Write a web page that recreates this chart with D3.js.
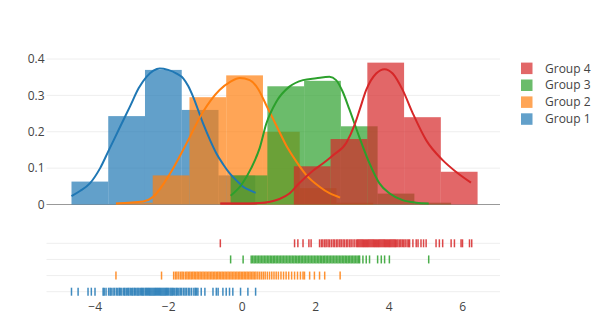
<!DOCTYPE html>
<html><head><meta charset="utf-8">
<script src="https://cdn.jsdelivr.net/npm/d3@7"></script>
<style>body{margin:0;background:#fff}svg{display:block}text{font-family:"Open Sans",verdana,arial,sans-serif}</style>
</head><body><svg id="c" width="612" height="336"></svg>
<script>
const groups = ["Group 1","Group 2","Group 3","Group 4"];
const colors = ["#1f77b4","#ff7f0e","#2ca02c","#d62728"];
const binSize = 1;
const binStart = [-4.63,-3.42,-0.30,-0.58];
const hist1 = [0.063,0.243,0.37,0.26,0.08];
const hist2 = [0.005,0.08,0.295,0.355,0.2,0.045,0.005];
const hist3 = [0.08,0.325,0.34,0.215,0.03,0.005];
const hist4 = [0.005,0,0.105,0.18,0.39,0.24,0.09];

const kde1 = [[-4.63,0.023],[-4.4,0.037],[-4.13,0.058],[-3.85,0.1],[-3.61,0.15],[-3.3,0.215],[-3.04,0.269],[-2.8,0.32],[-2.59,0.351],[-2.4,0.368],[-2.23,0.374],[-2.0,0.37],[-1.77,0.36],[-1.59,0.347],[-1.45,0.325],[-1.32,0.296],[-1.05,0.223],[-0.85,0.175],[-0.69,0.141],[-0.5,0.11],[-0.33,0.086],[-0.1,0.062],[0.04,0.049],[0.2,0.04],[0.38,0.032]];
const kde2 = [[-3.42,0.003],[-2.68,0.008],[-2.41,0.021],[-1.96,0.083],[-1.5,0.168],[-1.05,0.255],[-0.6,0.315],[-0.3,0.338],[-0.05,0.348],[0.22,0.342],[0.44,0.319],[0.67,0.273],[0.94,0.218],[1.21,0.163],[1.49,0.118],[1.76,0.081],[2.12,0.049],[2.39,0.031],[2.68,0.019]];
const kde3 = [[-0.3,0.024],[0.0,0.055],[0.26,0.1],[0.49,0.155],[0.67,0.222],[0.94,0.282],[1.3,0.324],[1.67,0.342],[2.03,0.347],[2.39,0.351],[2.57,0.342],[2.75,0.31],[2.93,0.262],[3.2,0.186],[3.48,0.113],[3.75,0.058],[4.02,0.031],[4.38,0.012],[4.75,0.005],[5.09,0.003]];
const kde4 = [[-0.58,0.003],[0.0,0.003],[0.49,0.004],[1.03,0.015],[1.3,0.03],[1.58,0.06],[1.94,0.093],[2.2,0.112],[2.48,0.135],[2.85,0.17],[3.07,0.218],[3.21,0.26],[3.39,0.315],[3.66,0.36],[3.89,0.372],[4.11,0.36],[4.38,0.315],[4.66,0.25],[5.02,0.177],[5.47,0.122],[5.83,0.09],[6.24,0.06]];

const rug1 = [-4.63,-4.45,-4.18,-4.09,-3.99,-3.77,-3.74,-3.69,-3.62,-3.58,-3.55,-3.5,-3.46,-3.41,-3.37,-3.33,-3.3,-3.26,-3.21,-3.18,-3.14,-3.1,-3.07,-3.03,-2.99,-2.96,-2.92,-2.89,-2.85,-2.82,-2.79,-2.75,-2.72,-2.69,-2.66,-2.62,-2.59,-2.56,-2.53,-2.5,-2.47,-2.44,-2.41,-2.38,-2.35,-2.32,-2.29,-2.26,-2.23,-2.2,-2.17,-2.14,-2.11,-2.08,-2.05,-2.02,-1.99,-1.95,-1.92,-1.89,-1.86,-1.82,-1.78,-1.75,-1.71,-1.67,-1.63,-1.58,-1.54,-1.5,-1.45,-1.41,-1.36,-1.3,-1.26,-1.23,-1.19,-1.1,-1.0,-0.78,-0.69,-0.64,-0.51,-0.42,-0.33,-0.24,-0.03,0.17,0.38];
const rug2 = [-3.42,-2.18,-1.85,-1.8,-1.76,-1.71,-1.66,-1.62,-1.58,-1.53,-1.49,-1.45,-1.41,-1.37,-1.33,-1.29,-1.25,-1.21,-1.17,-1.13,-1.09,-1.05,-1.01,-0.97,-0.93,-0.89,-0.85,-0.81,-0.77,-0.73,-0.69,-0.65,-0.61,-0.57,-0.53,-0.49,-0.45,-0.41,-0.37,-0.33,-0.29,-0.25,-0.21,-0.17,-0.13,-0.09,-0.05,-0.01,0.03,0.07,0.11,0.15,0.19,0.23,0.27,0.31,0.35,0.39,0.44,0.49,0.54,0.59,0.64,0.7,0.76,0.82,0.88,0.94,1.0,1.07,1.14,1.21,1.28,1.36,1.44,1.52,1.6,1.67,1.71,1.85,1.98,2.12,2.26,2.68];
const rug3 = [-0.3,0.04,0.26,0.3,0.34,0.38,0.42,0.46,0.5,0.54,0.58,0.62,0.66,0.7,0.74,0.78,0.82,0.86,0.9,0.94,0.98,1.02,1.06,1.1,1.14,1.18,1.22,1.26,1.3,1.34,1.38,1.42,1.46,1.5,1.54,1.58,1.62,1.66,1.7,1.74,1.78,1.82,1.86,1.9,1.94,1.98,2.02,2.06,2.1,2.14,2.18,2.22,2.26,2.3,2.34,2.38,2.42,2.46,2.5,2.54,2.58,2.62,2.66,2.7,2.74,2.78,2.82,2.86,2.9,2.94,2.98,3.02,3.06,3.1,3.14,3.18,3.21,3.3,3.39,3.48,3.7,3.8,3.89,4.02,5.09];
const rug4 = [-0.58,1.44,1.53,1.67,1.83,1.89,2.12,2.17,2.21,2.26,2.3,2.35,2.39,2.44,2.49,2.53,2.58,2.62,2.67,2.71,2.76,2.8,2.85,2.89,2.94,2.98,3.03,3.08,3.13,3.16,3.19,3.22,3.25,3.28,3.31,3.34,3.37,3.4,3.43,3.46,3.49,3.52,3.55,3.58,3.61,3.64,3.67,3.7,3.73,3.76,3.79,3.82,3.85,3.88,3.91,3.94,3.97,4.0,4.03,4.06,4.09,4.12,4.15,4.18,4.21,4.25,4.29,4.33,4.37,4.41,4.45,4.5,4.54,4.57,4.66,4.75,4.8,4.88,4.95,5.02,5.29,5.38,5.47,5.7,5.79,5.97,6.01,6.2,6.26];

const xTicks = [-4,-2,0,2,4,6];
const yTicks = [0,0.1,0.2,0.3,0.4];

const hists = [hist1,hist2,hist3,hist4];
const kdes = [kde1,kde2,kde3,kde4];
const rugs = [rug1,rug2,rug3,rug4];

const svg = d3.select("#c");
const X0 = 46.5, X1 = 500;
const x = d3.scaleLinear().domain([-5.31,7.03]).range([X0,X1]);
const y = d3.scaleLinear().domain([0,0.4]).range([204.5,59]);
const yr = d3.scalePoint().domain(groups).range([291.7,243.3]);

// grid
svg.append("g").selectAll("line").data(yTicks.filter(d=>d>0)).join("line")
  .attr("x1",X0).attr("x2",X1).attr("y1",d=>y(d)).attr("y2",d=>y(d))
  .attr("stroke","#eee").attr("stroke-width",1);
svg.append("line").attr("x1",X0).attr("x2",X1).attr("y1",y(0)).attr("y2",y(0))
  .attr("stroke","#999").attr("stroke-width",1.2);
svg.append("g").selectAll("line").data(groups).join("line")
  .attr("x1",X0).attr("x2",X1).attr("y1",d=>yr(d)).attr("y2",d=>yr(d))
  .attr("stroke","#eee").attr("stroke-width",1);

// histograms
hists.forEach((h,gi)=>{
  svg.append("g").selectAll("rect").data(h.map((v,i)=>({x0:binStart[gi]+i*binSize,x1:binStart[gi]+(i+1)*binSize,v})).filter(d=>d.v>0))
    .join("rect")
    .attr("x",d=>x(d.x0)).attr("width",d=>x(d.x1)-x(d.x0))
    .attr("y",d=>y(d.v)).attr("height",d=>y(0)-y(d.v))
    .attr("fill",colors[gi]).attr("fill-opacity",0.7);
});

// curves
const line = d3.line().x(d=>x(d[0])).y(d=>y(d[1])).curve(d3.curveMonotoneX);
kdes.forEach((k,gi)=>{
  svg.append("path").attr("d",line(k)).attr("fill","none")
    .attr("stroke",colors[gi]).attr("stroke-width",2);
});

// rugs
rugs.forEach((r,gi)=>{
  const yc = yr(groups[gi]);
  svg.append("g").selectAll("line").data(r).join("line")
    .attr("x1",d=>x(d)).attr("x2",d=>x(d)).attr("y1",yc-4).attr("y2",yc+4)
    .attr("stroke",colors[gi]).attr("stroke-width",1.5).attr("stroke-opacity",0.85);
});

// axes
const xa = svg.append("g").attr("transform","translate(0,298)")
  .call(d3.axisBottom(x).tickValues(xTicks).tickSize(0).tickPadding(4));
xa.select(".domain").remove();
xa.selectAll("text").attr("fill","#444").style("font-size","12px");

const ya = svg.append("g").attr("transform",`translate(${X0},0)`)
  .call(d3.axisLeft(y).tickValues(yTicks).tickSize(0).tickPadding(2).tickFormat(d=>d===0?"0":d3.format(".1f")(d)));
ya.select(".domain").remove();
ya.selectAll("text").attr("fill","#444").style("font-size","12px");

// legend
const legRows = [3,2,1,0];
const lg = svg.append("g");
legRows.forEach((gi,j)=>{
  const cy = 68.3 + j*16.9;
  lg.append("rect").attr("x",521).attr("y",cy-5.7).attr("width",11.5).attr("height",11.5)
    .attr("fill",colors[gi]).attr("fill-opacity",0.7);
  lg.append("text").attr("x",545).attr("y",cy).attr("dy","0.35em")
    .attr("fill","#444").style("font-size","12px").text(groups[gi]);
});
</script></body></html>
